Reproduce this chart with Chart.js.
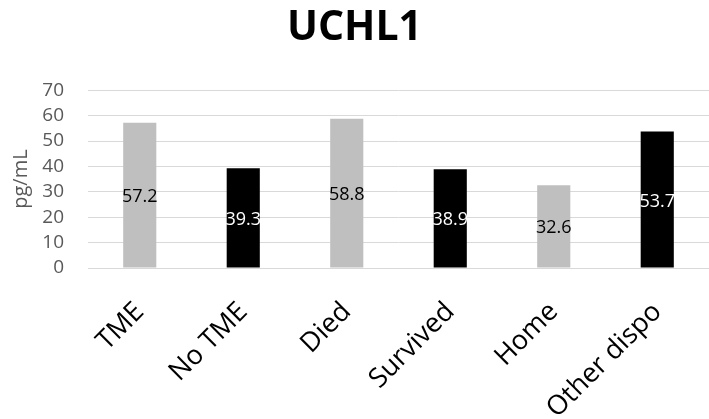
<!DOCTYPE html>
<html>
<head>
<meta charset="utf-8">
<script src="https://cdn.jsdelivr.net/npm/chart.js@4"></script>
<style>
html,body{margin:0;padding:0;background:#fff;}
#wrap{width:709px;height:419px;}
</style>
</head>
<body>
<div id="wrap"><canvas id="c" width="709" height="419"></canvas></div>
<script>
const categories = ["TME", "No TME", "Died", "Survived", "Home", "Other dispo"];
const values = [57.2, 39.3, 58.8, 38.9, 32.6, 53.7];
const barColors = ["#BFBFBF", "#000000", "#BFBFBF", "#000000", "#BFBFBF", "#000000"];
const labelColors = ["#000000", "#FFFFFF", "#000000", "#FFFFFF", "#000000", "#FFFFFF"];
const yTicks = [0, 10, 20, 30, 40, 50, 60, 70];

const FONT = "'Open Sans', 'Liberation Sans', sans-serif";

const valueLabels = {
  id: 'valueLabels',
  afterDatasetsDraw(chart) {
    const ctx = chart.ctx;
    const meta = chart.getDatasetMeta(0);
    ctx.save();
    ctx.font = "18px " + FONT;
    ctx.textAlign = 'center';
    ctx.textBaseline = 'middle';
    meta.data.forEach((bar, i) => {
      ctx.fillStyle = labelColors[i];
      const y = (bar.y + bar.base) / 2;
      ctx.fillText(values[i].toFixed(1), bar.x, y + 2);
    });
    ctx.restore();
  }
};

new Chart(document.getElementById('c'), {
  type: 'bar',
  data: {
    labels: categories,
    datasets: [{
      data: values,
      backgroundColor: barColors,
      borderWidth: 0,
      barPercentage: 0.32,
      categoryPercentage: 1.0
    }]
  },
  options: {
    responsive: false,
    animation: false,
    layout: { padding: { left: 0, right: 0, top: 2, bottom: 0 } },
    plugins: {
      legend: { display: false },
      tooltip: { enabled: false },
      title: {
        display: true,
        text: 'UCHL1',
        color: '#000',
        font: { family: FONT, size: 41, weight: 'bold' },
        padding: { top: 2, bottom: 37 }
      }
    },
    scales: {
      x: {
        afterFit(axis) { axis.height = 151; },
        grid: { display: false, drawTicks: false },
        border: { display: true, color: '#D9D9D9', width: 1 },
        ticks: {
          color: '#000',
          font: { family: FONT, size: 27 },
          maxRotation: 45,
          minRotation: 45,
          autoSkip: false,
          padding: 28
        }
      },
      y: {
        min: 0,
        max: 70,
        afterFit(axis) { axis.width = 88; },
        afterBuildTicks(axis) { axis.ticks = yTicks.map(v => ({ value: v })); },
        grid: { color: '#D9D9D9', drawTicks: false },
        border: { display: false },
        ticks: {
          color: '#595959',
          font: { family: FONT, size: 19 },
          autoSkip: false,
          padding: 24
        },
        title: {
          display: true,
          text: 'pg/mL',
          color: '#595959',
          font: { family: FONT, size: 20 },
          padding: { top: 9, bottom: 0 }
        }
      }
    }
  },
  plugins: [valueLabels]
});
</script>
</body>
</html>
